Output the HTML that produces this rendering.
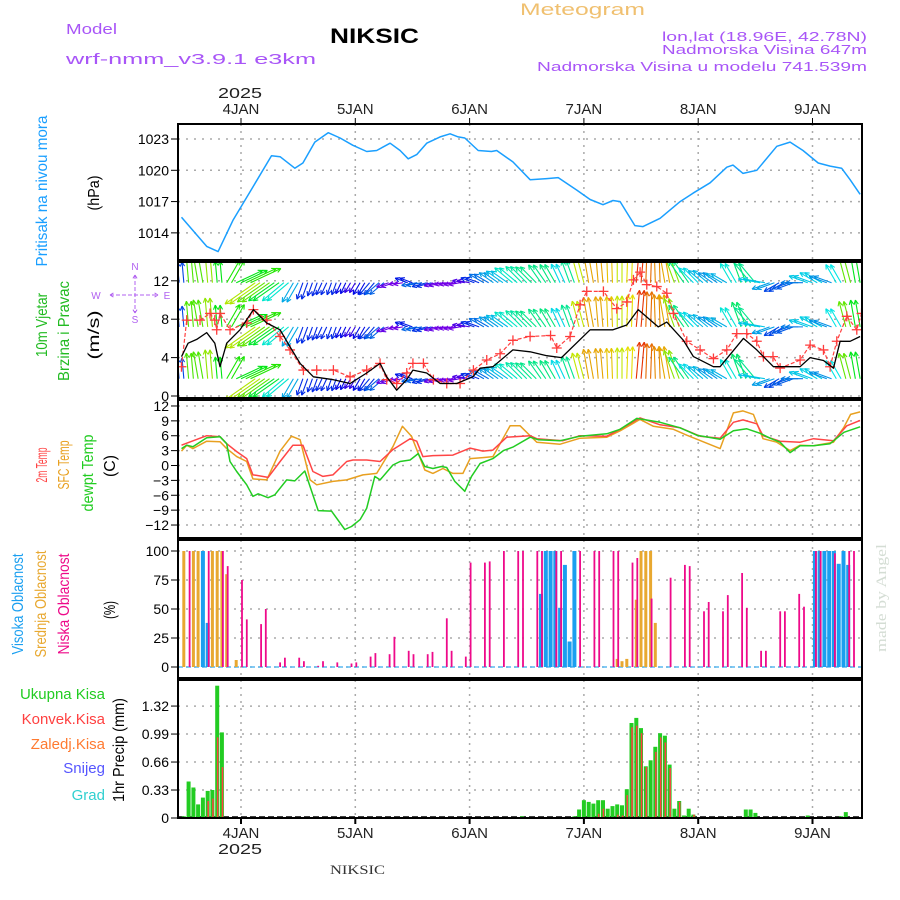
<!DOCTYPE html>
<html><head><meta charset="utf-8"><style>
html,body{margin:0;padding:0;background:#fff;}
svg{display:block;font-family:"Liberation Sans",sans-serif;}
</style></head><body>
<svg id="chart" width="900" height="900" viewBox="0 0 900 900" xmlns="http://www.w3.org/2000/svg">
<rect width="900" height="900" fill="#fff"/>
<g id="hdr">
<text x="66" y="34" font-size="15" fill="#a855f7" textLength="51" lengthAdjust="spacingAndGlyphs">Model</text>
<text x="66" y="64" font-size="15" fill="#a855f7" textLength="250" lengthAdjust="spacingAndGlyphs">wrf-nmm_v3.9.1 e3km</text>
<text x="330" y="43" font-size="21" font-weight="bold" fill="#000" textLength="89" lengthAdjust="spacingAndGlyphs">NIKSIC</text>
<text x="520" y="15" font-size="17" fill="#f0c070" textLength="125" lengthAdjust="spacingAndGlyphs">Meteogram</text>
<text x="662" y="41" font-size="13" fill="#a855f7" textLength="205" lengthAdjust="spacingAndGlyphs">lon,lat (18.96E, 42.78N)</text>
<text x="662" y="54" font-size="13" fill="#a855f7" textLength="205" lengthAdjust="spacingAndGlyphs">Nadmorska Visina 647m</text>
<text x="537" y="71" font-size="13" fill="#a855f7" textLength="330" lengthAdjust="spacingAndGlyphs">Nadmorska Visina u modelu 741.539m</text>
<text x="218" y="98" font-size="15" fill="#222" textLength="44" lengthAdjust="spacingAndGlyphs">2025</text>
<text x="218" y="854" font-size="15" fill="#222" textLength="44" lengthAdjust="spacingAndGlyphs">2025</text>
<text x="330" y="874" font-size="13" font-family="Liberation Serif, serif" fill="#333" textLength="55" lengthAdjust="spacingAndGlyphs">NIKSIC</text>
<text transform="translate(886,652) rotate(-90)" font-size="15" font-family="Liberation Serif, serif" fill="#d4ddd4" textLength="108" lengthAdjust="spacingAndGlyphs">made by Angel</text>
</g>
<g id="labels"></g>
<g id="grid"></g>
<g id="marks"></g>
<g id="frames"></g>
</svg>
<script>
// ---- data (hours relative to 4 JAN 00 UTC) ----
const dayLabels = ["4JAN","5JAN","6JAN","7JAN","8JAN","9JAN"];
const pressTicks = [1014,1017,1020,1023];
const windTicks = [0,4,8,12];
const tempTicks = [-12,-9,-6,-3,0,3,6,9,12];
const cloudTicks = [0,25,50,75,100];
const precipTicks = [0,0.33,0.66,0.99,1.32];

const pHours = [-12.5,-7.2,-4.8,-1.7,2.5,6.4,8.2,11.3,13,15.5,18.3,20.8,23.5,26.4,28.5,31.3,33.4,35.1,36.9,39,41.8,43.9,45.6,47,49.8,52.6,53.7,57.1,60.7,64.2,66.6,70.5,73.3,76,78.1,79.6,82.7,84.4,88,92.2,94.9,98.5,102,103.3,105.4,108.3,112.5,115.3,118,121.2,123.7,126.1,127.9,130];
const pVals = [1015.5,1012.7,1012.2,1015.2,1018.4,1021.4,1021.3,1020.2,1020.7,1022.7,1023.6,1023.1,1022.4,1021.8,1021.9,1022.6,1021.9,1021.1,1021.5,1022.6,1023.2,1023.5,1023.2,1023.1,1021.9,1021.8,1021.9,1020.8,1019.1,1019.2,1019.3,1018.1,1017.2,1016.7,1017.1,1017.0,1014.7,1014.6,1015.4,1017.0,1017.8,1018.8,1020.3,1020.5,1019.7,1020.0,1022.3,1022.7,1021.9,1020.7,1020.4,1020.2,1019.1,1017.7];

const spdHours = [-12.5,-11.1,-9.3,-7.2,-5.5,-4.4,-3,-0.2,2.6,5.4,8.2,10.3,12.4,15.2,19.4,22.9,26.4,29.2,30.6,32.7,34.8,36.1,39,41.8,45.3,48.7,50.2,52.9,57.1,60.7,64.2,67.3,73.3,78.1,81,83.4,87.6,89.4,92.9,95,99.2,100.6,105.5,108.3,111.8,117.4,119.5,122.3,124.4,125.8,127.9,130];
const spdVals = [4.1,5.5,5.9,6.6,5.5,3.05,5.5,6.9,9.0,7.6,6.9,5.1,3.4,2.0,1.7,1.3,2.4,3.4,2.0,0.6,1.7,2.7,2.4,1.3,1.3,2.0,2.9,3.05,4.8,4.6,4.2,4.0,6.9,6.9,7.4,9.0,7.2,7.7,5.8,4.1,3.05,3.05,6.0,4.8,3.05,3.05,4.0,3.7,2.9,5.7,5.7,6.2];

const gustHours = [-12.5,-11.4,-8.6,-6.5,-5.5,-5.1,-4.4,-2.3,1.2,2.6,5.4,8.2,10.3,13.1,15.9,19.4,22.9,26.4,29.2,30.6,32.7,34.8,36.1,38.3,40.4,43.2,46,48.8,51.6,54.4,57.1,60.7,65,66.3,69.1,71.2,72.6,76.1,78.9,81,82.4,83.8,85.2,87.3,89.4,90.8,93.6,96.4,99.2,102,104.1,106.2,108.3,109.7,111.7,113.2,117.4,119.5,122.3,123.7,125.1,127.2,129.3,130.3];
const gustVals = [3.05,7.9,7.9,8.6,7.9,6.9,8.6,6.9,7.6,9.0,7.9,6.2,4.8,2.7,2.7,2.7,2.0,2.7,3.4,1.7,1.3,2.4,3.4,3.4,1.7,1.3,1.3,2.7,3.75,4.4,5.8,6.2,6.3,5.0,6.2,9.5,10.9,10.9,9.1,9.8,12.1,12.9,11.6,11.4,10.7,8.6,5.7,4.8,3.9,4.8,6.5,6.5,5.7,4.1,4.1,2.9,3.75,5.3,4.8,3.05,5.7,8.3,6.9,8.6];

const windStart = -13;
const windStep = 2;
const windDir = [95,95,100,95,95,60,25,25,215,215,215,220,240,250,250,245,250,245,240,240,230,220,200,190,160,190,195,195,190,190,170,160,150,145,145,140,135,135,125,120,115,110,105,100,95,92,90,88,85,88,92,100,110,125,135,140,145,150,120,110,130,170,200,210,200,180,160,150,160,120,105,100];
const windRows = [1.8,7.2,11.8];

const t2Hours = [-12.5,-11.4,-7.2,-4.4,-3,-0.9,1.2,2.5,3.3,5.7,8.2,10.9,13,15.1,17.2,19.3,22.2,23.5,26.4,29.2,31.9,35.5,36.9,38.2,40.3,44.5,48.1,50.8,52.9,55.8,60.7,62.1,67.6,71.2,76.8,79.6,83.8,88,92.2,96.4,100.6,103.4,105.4,108.3,109.6,113.2,117.4,120.2,124.4,127.2,130];
const t2Vals = [4.1,4.5,6.0,5.8,4.4,2.8,1.4,-1.9,-2.0,-2.4,0.8,4.1,4.1,-1.2,-2.2,-1.9,0.8,1.1,1.1,0.8,3.2,5.4,4.9,1.8,2.0,2.1,3.5,2.9,3.1,5.7,6.0,5.4,5.0,6.0,5.9,7.3,9.6,8.2,7.6,5.9,5.5,8.7,9.2,8.4,6.0,4.9,4.7,5.4,5.0,8.0,9.1];
const sfcHours = [-12.5,-11.4,-10.1,-7.2,-4.4,-3,-0.9,1.2,2.5,5.4,8.2,10.6,12.4,14.5,15.9,19.3,22.2,25.6,28.5,31.9,33.9,35.8,38.6,40.3,42.4,44.5,46.6,48.1,50.8,52.9,56.5,58.6,60.7,62.1,67,71.2,76.8,79.6,83.8,86.6,90.8,93.6,100.6,103.4,105.4,107.6,109.6,112.5,115.3,117.4,120.2,124.4,126.6,128,130];
const sfcVals = [2.9,4.1,3.4,4.9,4.8,3.4,1.8,0.8,-2.7,-2.9,2.9,5.9,5.2,-2.9,-3.9,-3.2,-2.9,-1.9,-1.6,3.8,7.9,5.9,-0.9,-1.6,-0.6,-1.6,-1.6,1.4,1.6,1.8,8.0,8.0,6.0,4.7,4.3,5.5,5.7,7.0,9.3,7.9,7.3,6.1,3.4,10.6,11.0,10.3,5.4,4.7,3.0,4.1,4.0,4.7,7.7,10.3,10.8];
const dewHours = [-12.5,-11.4,-10.1,-7.2,-4.4,-3,-2.3,-0.9,1.2,2.5,3.6,5.7,7.1,9.6,11.3,13.4,16.2,19,21.8,23.2,25,26.4,28.1,29.2,31.9,33.4,35.5,37.2,38.6,40.3,42.1,43.2,44.9,47,48.4,50.2,52.9,55.1,57.1,60.7,62.4,67,71.2,76.8,79.6,83.1,88,92.2,95.7,100.6,103.4,106.2,109,111.1,113.2,115.3,117.4,120.2,123.7,126.6,130];
const dewVals = [3.4,4.1,3.8,5.6,5.8,4.4,0.8,-1.2,-3.9,-6.2,-5.7,-6.5,-5.9,-2.9,-3.1,-1.1,-9.1,-9.2,-12.9,-12.3,-10.9,-8.6,-2.2,-2.9,0.1,0.8,1.1,2.4,-0.2,-0.6,-0.2,-0.4,-3.2,-5.2,-2.2,0.4,1.4,3.0,3.7,5.7,5.2,5.0,5.9,6.4,7.3,9.5,8.7,7.6,6.1,5.3,7.0,7.4,6.5,5.5,4.7,2.6,4.0,4.0,4.4,6.7,7.8];

const lowHours = [-11,-7,-4,-3,0,1,4,5,8,9,12,13,16,17,20,23,24,27,28,31,32,35,36,39,40,43,44,47,48,51,52,55,58,59,62,63,66,67,71,74,75,78,79,82,83,86,90,93,94,97,98,101,102,105,106,109,110,113,114,117,118,120.5,121.5,124.5,127.5,128.5];
const lowVals = [100,100,100,87,75,41,37,50,4,8,8,5,1,5,4,3,4,9,12,11,26,14,11,11,13,42,14,9,90,90,91,100,100,100,100,100,100,100,100,100,100,100,100,90,94,59,77,88,87,48,56,48,62,81,51,14,14,48,48,63,52,100,100,98,100,100];
const midHours = [-12,-10,-9,-6,-5,-4,-3,-1,64,70,79,80,81,83,84,85,86,87];
const midVals = [100,100,100,100,100,100,80,6,100,41,7,5,7,58,100,100,100,38];
const highHours = [-8,-7,63,64,65,66,67,68,69,70,120.5,121.5,122.5,123.5,124.5,125.5,126.5,127.5];
const highVals = [100,38,63,100,100,100,51,88,22,100,100,100,100,100,100,89,100,88];

const rainHours = [-12,-11,-10,-9,-8,-7,-6,-5,-4,59,70,71,72,73,74,75,76,77,78,79,80,81,82,83,84,85,86,87,88,89,90,91,92,93,94,95,106,107,108,118,119,124,126,127];
const rainTotal = [0.02,0.43,0.36,0.16,0.24,0.32,0.33,1.56,1.01,0.02,0.02,0.1,0.21,0.19,0.17,0.21,0.21,0.11,0.14,0.16,0.15,0.34,1.12,1.18,1.06,0.61,0.68,0.84,1.0,0.97,0.63,0.11,0.2,0.03,0.11,0.04,0.1,0.1,0.06,0.01,0.03,0.01,0.02,0.07];
const convHours = [-7,-6,-5,-4,75,76,79,80,81,82,83,84,85,87,88,89,90,92,95];
const convVals = [0.2,0.23,0.95,0.6,0.05,0.11,0.04,0.03,0.27,1.07,1.09,1.0,0.6,0.78,0.95,0.89,0.59,0.19,0.04];

// ---- layout ----
const NS="http://www.w3.org/2000/svg";
const L=178,R=862;
const X=h=>241+h*4.7625;
const P={press:[124,260],wind:[262,398],temp:[400,538],cloud:[540,678],precip:[680,818]};
const Yp=v=>139+(1023-v)*10.43;
const Yw=v=>396-v*9.6;
const Yt=v=>465.5-v*4.96;
const Yc=v=>667-v*1.16;
const Yr=v=>818-v*84.8;
function el(tag,attrs,parent){const e=document.createElementNS(NS,tag);for(const k in attrs)e.setAttribute(k,attrs[k]);parent.appendChild(e);return e;}
const G=document.getElementById('grid'),M=document.getElementById('marks'),F=document.getElementById('frames'),LB=document.getElementById('labels');

const defs=el('defs',{},document.getElementById('chart'));
for(const k in P){const c=el('clipPath',{id:'clip-'+k},defs);el('rect',{x:L,y:P[k][0],width:R-L,height:P[k][1]-P[k][0]},c);}

dayLabels.forEach((d,i)=>{
  const x=X(24*i);
  for(const k in P){
    const l=el('line',{x1:x,x2:x,y1:P[k][0],y2:P[k][1],stroke:'#aaa','stroke-width':1.5,'stroke-dasharray':'2,5'},G);
    
    
  }
  const t1=el('text',{x:x,y:114,'font-size':15,'text-anchor':'middle',fill:'#222'},LB);t1.textContent=d;
  
  
  const t2=el('text',{x:x,y:838,'font-size':15,'text-anchor':'middle',fill:'#222'},LB);t2.textContent=d;
  
  
  el('line',{x1:x,x2:x,y1:818,y2:824,stroke:'#000','stroke-width':2},F);
  el('line',{x1:x,x2:x,y1:118,y2:124,stroke:'#000','stroke-width':1},F);
});

function ticks(vals,fy,fmt,name){
  vals.forEach(v=>{
    const y=fy(v);
    const g=el('line',{x1:L,x2:R,y1:y,y2:y,stroke:'#aaa','stroke-width':1.5,'stroke-dasharray':'2,6'},G);
    
    
    el('line',{x1:L-7,x2:L,y1:y,y2:y,stroke:'#000','stroke-width':1},F);
    const t=el('text',{x:L-9,y:y+5,'font-size':14,'text-anchor':'end',fill:'#000'},LB);
    t.textContent=fmt(v);
    
    
  });
}
ticks(pressTicks,Yp,v=>String(v),'pressure');
ticks(windTicks,Yw,v=>String(v),'wind');
ticks(tempTicks,Yt,v=>v<0?'\u2212'+(-v):String(v),'temp');
ticks(cloudTicks,Yc,v=>String(v),'cloud');
ticks(precipTicks,Yr,v=>v===0?'0':v.toFixed(2),'precip');

function line(hs,vs,fy,color,clip,name,w){
  const d=hs.map((h,i)=>(i?'L':'M')+X(h).toFixed(1)+','+fy(vs[i]).toFixed(1)).join('');
  const p=el('path',{d:d,fill:'none',stroke:color,'stroke-width':w||1.5,'clip-path':'url(#clip-'+clip+')','stroke-linejoin':'round'},M);
  
  
  return p;
}
function interp(hs,vs,h){if(h<=hs[0])return vs[0];for(let i=1;i<hs.length;i++){if(h<=hs[i]){const t=(h-hs[i-1])/(hs[i]-hs[i-1]);return vs[i-1]+t*(vs[i]-vs[i-1]);}}return vs[vs.length-1];}

line(pHours,pVals,Yp,'#1a9fff','press','pressure-line');

const hueStops=[[1.5,270],[2.5,235],[4,200],[5.5,180],[7,130],[8.5,80],[10,55],[11.5,35],[13,0]];
function hueFor(s){if(s<=hueStops[0][0])return hueStops[0][1];for(let i=1;i<hueStops.length;i++){if(s<=hueStops[i][0]){const a=hueStops[i-1],b=hueStops[i];return a[1]+(s-a[0])/(b[0]-a[0])*(b[1]-a[1]);}}return 0;}
const WA=el('g',{'clip-path':'url(#clip-wind)'},M);


windDir.forEach((dir,i)=>{
  const h=windStart+i*windStep;
  const sp=interp(spdHours,spdVals,h), gs=interp(gustHours,gustVals,h);
  const col='hsl('+hueFor(gs).toFixed(0)+',100%,45%)';
  const len=7+3.4*sp, a=dir*Math.PI/180;
  windRows.forEach(r=>{
    for(const off of [0,windStep/2]){
      const x0=X(h+off),y0=Yw(r);
      const x1=x0+len*Math.cos(a),y1=y0-len*Math.sin(a);
      const g=el('g',{stroke:col,'stroke-width':1.1,fill:'none'},WA);
      
      
      el('line',{x1:x0,y1:y0,x2:x1,y2:y1},g);
      for(const s of [-1,1]){const b=a+Math.PI+s*0.45;el('line',{x1:x1,y1:y1,x2:x1+5*Math.cos(b),y2:y1-5*Math.sin(b)},g);}
    }
  });
});
const gl=line(gustHours,gustVals,Yw,'#ff4040','wind','gust-line',1.2);
gl.setAttribute('stroke-dasharray','4,2');
gustHours.forEach((h,i)=>{
  const x=X(h),y=Yw(gustVals[i]);
  const p=el('path',{d:`M${x-5},${y}H${x+5}M${x},${y-5}V${y+5}`,stroke:'#ff3b3b','stroke-width':1.3,'clip-path':'url(#clip-wind)'},M);
  
  
});
line(spdHours,spdVals,Yw,'#000','wind','wind-speed-line',1.3);

line(sfcHours,sfcVals,Yt,'#e8a020','temp','sfc-temp-line');
line(t2Hours,t2Vals,Yt,'#ff4545','temp','temp-2m-line');
line(dewHours,dewVals,Yt,'#22cc22','temp','dewpoint-line');

const bl=el('line',{x1:L,x2:R,y1:Yc(0),y2:Yc(0),stroke:'#5ab8f0','stroke-width':1.5,'stroke-dasharray':'5,3'},M);


function bars(hs,vs,fy,color,w,dx,name,clip){
  hs.forEach((h,i)=>{
    const x=X(h)+dx, y=fy(vs[i]), y0=fy(0);
    const r=el('rect',{x:(x-w/2).toFixed(1),y:y.toFixed(1),width:w,height:Math.max(0.5,y0-y).toFixed(1),fill:color,'clip-path':'url(#clip-'+clip+')'},M);
    
    
  });
}
bars(midHours,midVals,Yc,'#e8a830',3,0,'mid-cloud-bar','cloud');
bars(highHours,highVals,Yc,'#1a9ff0',4,0,'high-cloud-bar','cloud');
bars(lowHours,lowVals,Yc,'#ee0a8a',1.8,1,'low-cloud-bar','cloud');

const pb=el('line',{x1:L,x2:R,y1:817,y2:817,stroke:'#000','stroke-width':1.5,'stroke-dasharray':'6,3'},M);


bars(rainHours,rainTotal,Yr,'#22cc22',4,0,'total-precip-bar','precip');
bars(convHours,convVals,Yr,'#ff4040',1.5,0.5,'convective-precip-bar','precip');

for(const k in P){
  const r=el('rect',{x:L,y:P[k][0],width:R-L,height:P[k][1]-P[k][0],fill:'none',stroke:'#000','stroke-width':2},F);
  
  
}

// rotated labels: [text, centre x, centre y, length, colour, name]
const rot=[
 ['Pritisak na nivou mora',41,191,151,'#1a9fff','pressure-title'],
 ['(hPa)',93,193,35,'#000','pressure-unit'],
 ['10m Vjetar',41,325,64,'#22bb22','wind-title'],
 ['Brzina i Pravac',63,331,100,'#22bb22','wind-subtitle'],
 ['(m/s)',93,335,49,'#000','wind-unit'],
 ['2m Temp',41,465,35,'#ff4545','temp-2m-title'],
 ['SFC Temp',63,465,49,'#e8a020','sfc-temp-title'],
 ['dewpt Temp',87,473,77,'#22cc22','dewpoint-title'],
 ['(C)',109,466,22,'#000','temp-unit'],
 ['Visoka Oblacnost',17,604,101,'#1a9ff0','high-cloud-title'],
 ['Srednja Oblacnost',40,604,107,'#e8a830','mid-cloud-title'],
 ['Niska Oblacnost',63,604,101,'#ee0a8a','low-cloud-title'],
 ['(%)',109,610,18,'#000','cloud-unit'],
 ['1hr Precip (mm)',118,750,104,'#000','precip-title']
];
rot.forEach(([t,x,y,len,c,n])=>{
  const e=el('text',{x:0,y:0,'font-size':16,'text-anchor':'middle',fill:c},LB);
  e.textContent=t;
  
  
  let w=0;try{w=e.getComputedTextLength();}catch(err){}
  const s=w>0?len/w:1;
  e.setAttribute('transform',`translate(${x+6},${y}) rotate(-90) scale(${s.toFixed(3)},1)`);
});
[['Ukupna Kisa',699,'#22cc22','legend-total'],['Konvek.Kisa',724,'#ff4040','legend-convective'],['Zaledj.Kisa',749,'#ff7a30','legend-freezing'],['Snijeg',773,'#5555ff','legend-snow'],['Grad',800,'#30d0d0','legend-hail']].forEach(([t,y,c,n])=>{
  const e=el('text',{x:105,y:y,'font-size':15,'text-anchor':'end',fill:c},LB);
  e.textContent=t;
  
  
});
const cp=el('g',{fill:'#b060f0','font-size':10,'text-anchor':'middle'},LB);


[['N',135,270],['W',96,299],['E',167,299],['S',135,323]].forEach(([t,x,y])=>{const e=el('text',{x:x,y:y},cp);e.textContent=t;});
el('path',{d:'M110,295H158M135,275V313M110,295l5,-3M110,295l5,3M158,295l-5,-3M158,295l-5,3M135,275l-3,5M135,275l3,5M135,313l-3,-5M135,313l3,-5',stroke:'#b060f0','stroke-width':1,fill:'none','stroke-dasharray':'4,2'},cp);
</script>
</body></html>
